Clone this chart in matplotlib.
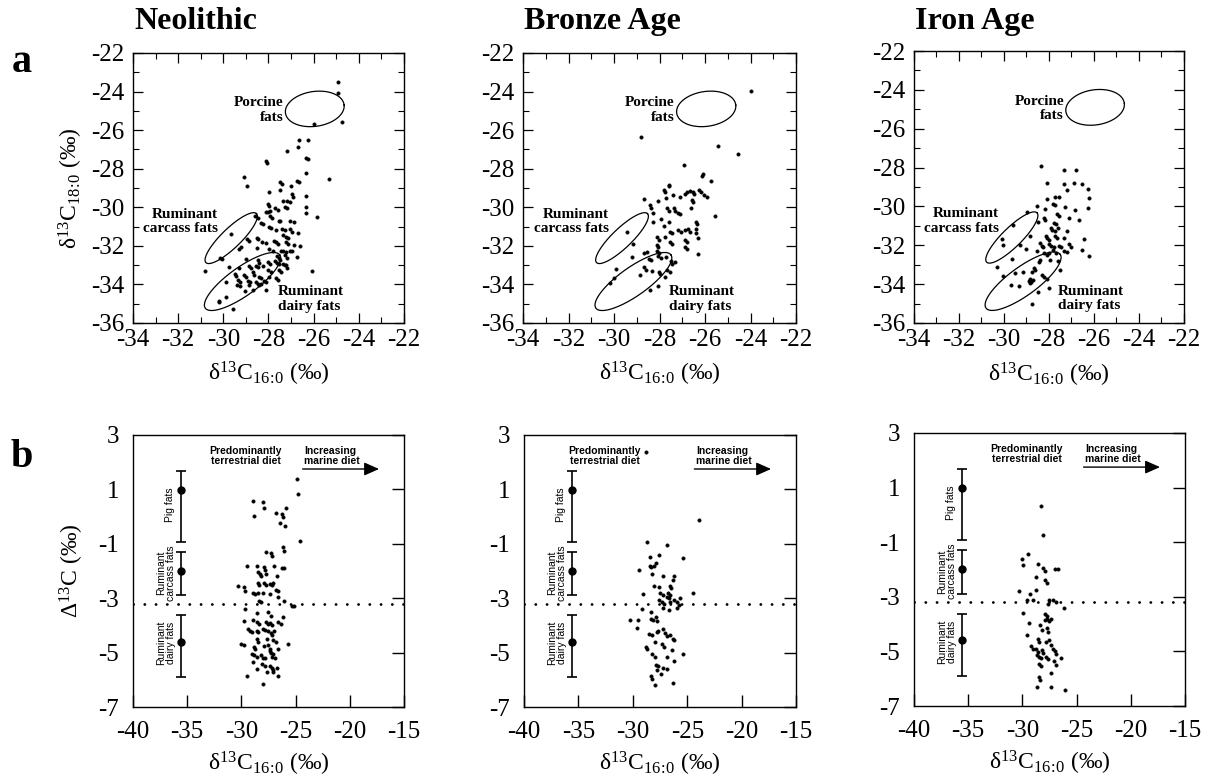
import numpy as np
import matplotlib
matplotlib.use("Agg")
import matplotlib.pyplot as plt

plt.rcParams['font.family'] = ['Liberation Serif', 'DejaVu Serif']
plt.rcParams['mathtext.fontset'] = 'custom'
plt.rcParams['mathtext.rm'] = 'Liberation Serif'
plt.rcParams['mathtext.default'] = 'regular'

periods = ["Neolithic", "Bronze Age", "Iron Age"]

# ---------------- top row: d13C16:0 vs d13C18:0 ----------------
neo_top = [
    (-24.94,-23.5), (-24.9,-24.1), (-24.74,-25.6), (-26.0,-25.7),
    (-26.65,-26.5), (-26.24,-26.5), (-27.2,-27.1), (-26.7,-26.9),
    (-26.32,-27.45), (-26.25,-27.5), (-28.1,-27.6), (-28.05,-27.72),
    (-26.35,-28.2), (-25.3,-28.55), (-29.07,-28.45), (-28.96,-28.9),
    (-27.5,-28.7), (-27.42,-28.78), (-26.72,-28.62), (-26.65,-28.7),
    (-27.0,-28.9), (-26.35,-29.4), (-27.96,-29.2), (-27.5,-29.1),
    (-26.97,-29.3), (-26.9,-29.45), (-27.35,-29.7), (-27.2,-29.65),
    (-27.05,-29.75), (-26.35,-30.0), (-26.35,-30.3), (-25.84,-30.5),
    (-28.02,-29.85), (-27.96,-29.95), (-27.7,-30.05), (-27.6,-30.12),
    (-27.27,-29.98), (-27.2,-30.05), (-28.1,-30.22), (-28.0,-30.25), (-27.93,-30.2),
    (-28.6,-30.45), (-28.45,-30.55), (-27.92,-30.45), (-27.85,-30.55),
    (-27.55,-30.7), (-27.48,-30.73), (-27.05,-30.7), (-26.87,-30.75),
    (-28.33,-30.83), (-28.23,-30.86), (-27.98,-31.02), (-27.88,-31.1),
    (-27.68,-31.2), (-27.38,-31.15), (-27.28,-31.2), (-27.05,-31.15), (-26.98,-31.3),
    (-26.7,-31.35), (-27.35,-31.45), (-27.23,-31.52), (-27.12,-31.58),
    (-29.65,-31.4), (-28.93,-31.65), (-28.86,-31.75), (-28.52,-31.6), (-28.45,-31.65),
    (-28.28,-31.8), (-28.13,-31.85), (-27.75,-31.75), (-27.68,-31.82), (-27.6,-31.92),
    (-27.23,-31.8), (-27.12,-31.88), (-26.85,-31.95), (-26.62,-32.0),
    (-29.3,-32.15), (-29.2,-32.07), (-28.5,-32.1), (-27.98,-32.18), (-27.82,-32.25),
    (-27.45,-32.27), (-27.35,-32.25), (-27.22,-32.3), (-27.05,-32.25), (-26.95,-32.28),
    (-27.63,-32.55), (-27.55,-32.65), (-27.48,-32.72), (-27.25,-32.5), (-27.2,-32.62),
    (-26.75,-32.6), (-30.15,-32.63), (-30.08,-32.68), (-29.0,-32.7), (-28.47,-32.75), (-28.4,-32.88),
    (-28.0,-32.85), (-27.92,-32.96), (-27.7,-32.8), (-27.62,-32.88), (-27.55,-32.96),
    (-27.35,-32.92), (-27.28,-33.0), (-27.2,-33.15), (-27.23,-32.98),
    (-30.8,-33.3), (-29.75,-33.1), (-29.3,-33.15), (-28.88,-33.06), (-28.78,-33.15),
    (-28.57,-33.03), (-28.47,-33.1), (-28.25,-33.05), (-28.0,-33.25), (-27.88,-33.38),
    (-27.55,-33.25), (-27.43,-33.38), (-29.5,-33.45), (-29.43,-33.55), (-29.1,-33.5), (-28.98,-33.6),
    (-28.7,-33.38), (-28.63,-33.5), (-28.4,-33.6), (-28.33,-33.68), (-27.98,-33.6),
    (-27.68,-33.65), (-27.6,-33.75), (-29.37,-33.78), (-29.27,-33.86), (-28.9,-33.8), (-28.82,-33.9),
    (-28.55,-33.88), (-28.48,-33.96), (-28.18,-33.8), (-28.1,-33.88),
    (-29.9,-33.85), (-29.38,-34.03), (-29.26,-34.1), (-28.85,-34.05), (-28.4,-34.05), (-28.34,-33.96),
    (-29.05,-34.35), (-28.7,-34.3), (-28.1,-34.3), (-30.17,-34.85), (-30.2,-34.9),
    (-29.9,-34.65), (-29.55,-35.3), (-26.06,-33.3),
]
bronze_top = [
    (-23.97,-23.97), (-28.83,-26.34), (-25.45,-26.83), (-24.57,-27.26), (-26.92,-27.81),
    (-26.07,-28.25), (-26.15,-28.4), (-25.75,-28.64), (-27.6,-28.92), (-27.58,-28.85),
    (-28.7,-29.57), (-27.82,-29.08), (-27.75,-29.2), (-27.7,-29.5), (-27.4,-29.35),
    (-26.9,-29.3), (-26.8,-29.22), (-26.65,-29.15), (-26.55,-29.22), (-26.48,-29.3),
    (-26.28,-29.08), (-26.2,-29.2), (-26.05,-29.35), (-25.9,-29.45), (-27.1,-29.45),
    (-26.58,-29.62), (-26.52,-29.72), (-28.43,-29.87), (-28.37,-30.03), (-28.05,-29.7),
    (-27.68,-30.05), (-27.6,-30.18), (-27.38,-30.05), (-27.3,-30.18), (-27.2,-30.28), (-27.12,-30.37),
    (-26.6,-30.03), (-25.55,-30.45), (-28.3,-30.3), (-28.27,-30.75), (-27.95,-30.6),
    (-27.6,-30.75), (-26.42,-30.75), (-26.35,-30.85), (-27.8,-30.95), (-29.42,-31.3),
    (-27.52,-31.27), (-27.45,-31.35), (-27.18,-31.18), (-27.07,-31.27), (-26.87,-31.18),
    (-26.75,-31.15), (-26.67,-31.27), (-26.42,-31.15), (-26.39,-31.33), (-28.1,-31.55),
    (-28.03,-31.68), (-27.75,-31.55), (-27.52,-31.8), (-27.45,-31.93), (-26.88,-31.68),
    (-26.8,-31.8), (-26.33,-31.6), (-29.15,-31.9), (-28.1,-31.96), (-28.07,-32.08),
    (-28.55,-32.3), (-28.1,-32.27), (-28.03,-32.37), (-26.9,-32.05), (-26.8,-32.18),
    (-26.33,-32.4), (-29.2,-32.6), (-28.7,-32.35), (-28.45,-32.68), (-28.38,-32.76),
    (-28.05,-32.55), (-27.95,-32.65), (-27.7,-32.6), (-27.48,-32.77), (-27.45,-32.95),
    (-27.33,-32.85), (-28.68,-33.08), (-28.6,-33.25), (-28.35,-33.3), (-28.03,-33.35),
    (-28.0,-33.48), (-27.67,-33.25), (-27.55,-33.37), (-29.92,-33.2), (-28.85,-33.5),
    (-30.0,-33.67), (-27.75,-33.6), (-30.2,-33.93), (-28.05,-34.1), (-28.4,-34.28),
]
iron_top = [
    (-28.36,-27.93), (-27.35,-28.1), (-26.8,-28.1), (-28.1,-28.8), (-27.35,-28.87),
    (-26.88,-28.8), (-26.55,-28.87), (-27.2,-29.13), (-26.28,-29.08), (-28.07,-29.63),
    (-27.72,-29.5), (-27.55,-29.5), (-27.83,-29.85), (-27.75,-29.95), (-27.3,-30.02),
    (-26.24,-29.55), (-28.55,-30.0), (-28.99,-30.3), (-28.17,-30.15), (-26.86,-30.2),
    (-26.28,-30.1), (-27.63,-30.4), (-27.55,-30.48), (-28.22,-30.6), (-28.17,-30.72),
    (-27.13,-30.62), (-26.65,-30.7), (-27.78,-30.83), (-27.7,-30.92), (-28.5,-30.78),
    (-29.6,-30.95), (-27.93,-31.13), (-27.85,-31.22), (-27.75,-31.25), (-27.6,-31.1),
    (-27.2,-31.25), (-28.85,-31.5), (-30.1,-31.7), (-28.15,-31.5), (-28.07,-31.62),
    (-28.0,-31.72), (-27.73,-31.5), (-27.63,-31.6), (-27.35,-31.65), (-26.45,-31.7),
    (-30.05,-32.0), (-29.3,-32.0), (-28.42,-31.9), (-28.32,-32.02), (-28.25,-32.1),
    (-28.0,-31.93), (-27.9,-32.02), (-27.78,-32.1), (-27.55,-32.02), (-27.48,-32.07),
    (-27.1,-31.95), (-27.0,-32.08), (-26.52,-32.26), (-26.24,-32.57), (-29.0,-32.2),
    (-28.55,-32.3), (-28.2,-32.4), (-28.1,-32.5), (-27.98,-32.38), (-27.8,-32.25),
    (-27.68,-32.38), (-27.35,-32.32), (-27.2,-32.37), (-28.4,-32.75), (-28.45,-32.85),
    (-27.95,-32.75), (-27.58,-32.8), (-29.65,-32.7), (-30.33,-33.1), (-28.68,-33.15),
    (-28.6,-33.28), (-27.5,-33.25), (-29.15,-33.37), (-30.05,-33.6), (-28.85,-33.75),
    (-28.8,-33.88), (-28.72,-33.8), (-28.83,-33.95), (-28.9,-33.85), (-28.75,-33.4),
    (-28.3,-33.55), (-28.2,-33.65), (-28.1,-33.75), (-29.5,-33.45), (-29.7,-34.05), (-29.35,-34.12),
    (-28.5,-34.4), (-28.0,-34.2), (-28.77,-35.0),
]

# ---------------- bottom row: d13C16:0 vs Delta13C ----------------
neo_bot = [
    (-24.85,1.4), (-24.8,0.82), (-24.6,-0.89), (-28.9,0.58), (-27.97,0.52), (-27.9,0.3),
    (-28.8,0.04), (-26.82,0.12), (-26.27,0.1), (-26.15,0.0), (-25.9,0.31), (-26.4,-0.25), (-26.0,-0.35),
    (-26.2,-1.1), (-26.1,-1.25), (-27.7,-1.3), (-27.25,-1.35), (-27.2,-1.45),
    (-29.5,-1.8), (-28.6,-1.8), (-27.95,-1.85), (-27.8,-1.95), (-26.95,-1.8), (-26.25,-1.9), (-26.1,-1.88),
    (-28.45,-2.05), (-28.3,-2.12), (-28.15,-2.2), (-27.7,-2.1), (-26.75,-2.2),
    (-30.3,-2.55), (-29.8,-2.57), (-29.65,-2.75), (-28.5,-2.45), (-28.4,-2.52),
    (-27.9,-2.45), (-27.72,-2.52), (-27.4,-2.46), (-27.2,-2.53), (-27.05,-2.43),
    (-26.8,-2.7), (-26.58,-2.72), (-28.95,-2.8), (-28.7,-2.84), (-28.5,-2.8), (-28.0,-2.8),
    (-27.35,-2.84), (-26.65,-2.95), (-28.4,-3.1), (-28.15,-3.15), (-26.1,-3.1),
    (-25.35,-3.3), (-25.1,-3.3), (-29.65,-3.4), (-28.6,-3.55), (-27.55,-3.5), (-27.25,-3.65),
    (-26.2,-3.7), (-29.75,-3.85), (-28.9,-3.8), (-28.6,-3.87), (-28.35,-3.95),
    (-27.7,-3.87), (-27.55,-3.95), (-27.35,-3.9), (-27.15,-3.98), (-26.6,-3.87), (-26.3,-3.95),
    (-29.4,-4.13), (-29.25,-4.22), (-29.0,-4.25), (-28.6,-4.2), (-28.45,-4.25),
    (-28.0,-4.12), (-27.85,-4.18), (-27.5,-4.2), (-27.3,-4.28), (-27.15,-4.35), (-27.0,-4.2),
    (-28.6,-4.5), (-28.45,-4.6), (-27.6,-4.5), (-27.05,-4.55), (-26.85,-4.6),
    (-30.0,-4.67), (-29.8,-4.73), (-28.85,-4.8), (-28.7,-4.85), (-27.95,-4.75),
    (-27.5,-4.73), (-27.4,-4.85), (-27.35,-4.93), (-27.27,-5.0), (-27.1,-5.05), (-27.2,-5.15),
    (-26.6,-4.85), (-25.7,-4.7), (-29.05,-5.05), (-28.85,-5.1), (-28.6,-5.15),
    (-28.15,-5.08), (-28.05,-5.18), (-27.8,-5.2), (-26.9,-5.2), (-28.9,-5.35),
    (-28.1,-5.42), (-27.8,-5.48), (-27.35,-5.5), (-27.2,-5.55), (-27.05,-5.63),
    (-26.75,-5.55), (-28.6,-5.6), (-27.65,-5.72), (-27.05,-5.73), (-29.45,-5.85),
    (-26.6,-5.85), (-28.0,-6.15),
]
bronze_bot = [
    (-28.79,2.36), (-23.88,-0.13), (-28.73,-0.93), (-26.9,-1.05), (-25.4,-1.52), (-28.4,-1.5), (-27.56,-1.4),
    (-29.4,-1.97), (-28.45,-1.8), (-28.3,-1.85), (-28.1,-1.8), (-27.9,-1.7), (-28.27,-2.12),
    (-27.2,-2.2), (-26.25,-2.2), (-26.35,-2.32), (-26.6,-2.55), (-26.5,-2.62),
    (-28.05,-2.55), (-27.6,-2.6), (-27.5,-2.8), (-27.2,-2.88), (-26.9,-2.97), (-29.1,-2.83),
    (-24.5,-2.8), (-26.75,-2.8), (-26.6,-2.88), (-26.7,-3.0), (-27.6,-3.08), (-27.3,-3.15), (-27.1,-3.22),
    (-26.6,-3.15), (-26.2,-3.08), (-25.95,-3.15), (-25.75,-3.25), (-25.9,-3.35), (-25.65,-3.0),
    (-29.2,-3.4), (-28.33,-3.5), (-27.2,-3.35), (-26.65,-3.45),
    (-30.3,-3.8), (-29.55,-3.8), (-28.3,-3.75), (-28.15,-3.8), (-27.9,-3.7), (-27.8,-3.85),
    (-29.6,-4.1), (-28.55,-4.3), (-28.25,-4.35), (-27.8,-4.25), (-27.65,-4.22),
    (-27.2,-4.15), (-27.05,-4.27), (-26.9,-4.4), (-26.6,-4.37), (-26.35,-4.5), (-26.25,-4.55),
    (-27.95,-4.6), (-28.8,-4.8), (-28.7,-4.85), (-27.35,-4.68), (-27.1,-4.8), (-26.4,-4.9),
    (-25.4,-5.05), (-28.2,-5.05), (-28.0,-5.15), (-26.9,-5.15), (-26.2,-5.3),
    (-27.9,-5.45), (-27.7,-5.5), (-27.2,-5.55), (-26.9,-5.6), (-27.8,-5.65),
    (-28.35,-5.85), (-28.2,-5.97), (-27.4,-5.8), (-27.95,-6.2), (-26.27,-6.1),
]
iron_bot = [
    (-28.32,0.31), (-28.07,-0.73), (-29.51,-1.43), (-30.05,-1.6), (-29.95,-1.85), (-28.53,-1.8),
    (-28.05,-1.95), (-27.95,-2.05), (-26.95,-2.0), (-26.75,-2.0), (-28.78,-2.26),
    (-27.95,-2.4), (-27.75,-2.5), (-30.3,-2.8), (-29.3,-2.9), (-28.78,-2.75),
    (-29.6,-3.1), (-29.0,-3.1), (-27.65,-3.25), (-27.5,-3.12), (-27.15,-3.12), (-26.9,-3.2),
    (-26.16,-3.4), (-29.98,-3.6), (-27.9,-3.62), (-27.7,-3.7), (-29.4,-3.95),
    (-27.9,-3.85), (-27.75,-3.82), (-27.55,-3.88), (-27.35,-3.82), (-28.35,-4.05), (-28.2,-4.2),
    (-27.75,-4.15), (-27.6,-4.3), (-29.6,-4.4), (-28.6,-4.55), (-28.5,-4.65),
    (-27.85,-4.65), (-27.5,-4.6), (-27.4,-4.75), (-29.2,-4.8), (-29.05,-4.9),
    (-28.7,-4.9), (-28.6,-5.02), (-28.2,-4.95), (-28.05,-5.05), (-27.2,-4.9), (-27.0,-5.0), (-26.85,-5.1),
    (-28.65,-5.15), (-28.5,-5.22), (-28.3,-5.25), (-27.8,-5.2), (-27.65,-5.28), (-26.4,-5.25),
    (-27.1,-5.35), (-28.45,-5.45), (-28.3,-5.55), (-26.9,-5.5), (-27.4,-5.8),
    (-28.45,-5.95), (-28.35,-6.05), (-28.68,-6.3), (-27.4,-6.3), (-26.1,-6.4),
]

top_data = [neo_top, bronze_top, iron_top]
bot_data = [neo_bot, bronze_bot, iron_bot]

# reference fat ellipses (center, half-axis vectors) in data units
ell_names = ["Porcine", "Carcass", "Dairy"]
ell_center = [(-25.95, -24.9), (-29.65, -31.6), (-29.15, -33.85)]
ell_u = [(1.3, 0.2), (1.12, 1.27), (1.65, 1.38)]
ell_v = [(-0.08, 0.9), (-0.3, 0.36), (-0.36, 0.6)]

# reference Delta13C ranges for modern fats
ref_labels = ["Pig fats", "Ruminant\ncarcass fats", "Ruminant\ndairy fats"]
ref_x = -35.6
ref_mean = [0.98, -2.0, -4.6]
ref_low = [-0.92, -2.88, -5.9]
ref_high = [1.68, -1.3, -3.62]
threshold = -3.2

top_xticks = [-34, -32, -30, -28, -26, -24, -22]
top_yticks = [-36, -34, -32, -30, -28, -26, -24, -22]
bot_xticks = [-40, -35, -30, -25, -20, -15]
bot_yticks = [-7, -5, -3, -1, 1, 3]

fig = plt.figure(figsize=(12.08, 7.79), dpi=100)

top_pos = [[0.1101, 0.5854, 0.2243, 0.3466],
           [0.4330, 0.5854, 0.2260, 0.3466],
           [0.7566, 0.5854, 0.2235, 0.3491]]
bot_pos = [[0.1101, 0.0924, 0.2243, 0.3492],
           [0.4338, 0.0924, 0.2252, 0.3492],
           [0.7566, 0.0937, 0.2243, 0.3505]]

xlab = r'δ$^{13}$C$_{16\!:\!0}$ (‰)'
tickfs = 18
labfs = 17
sans = ['Liberation Sans', 'DejaVu Sans']

for i in range(3):
    # ---------- top ----------
    ax = fig.add_axes(top_pos[i])
    pts = np.array(top_data[i])
    ax.plot(pts[:, 0], pts[:, 1], 'o', ms=2.6, color='black', mec='black', mew=0.2)
    t = np.linspace(0, 2 * np.pi, 200)
    for c, u, v in zip(ell_center, ell_u, ell_v):
        ex = c[0] + u[0] * np.cos(t) + v[0] * np.sin(t)
        ey = c[1] + u[1] * np.cos(t) + v[1] * np.sin(t)
        ax.plot(ex, ey, color='black', lw=0.9)
    ax.text(-27.33, -24.95, "Porcine\nfats", ha='right', va='center', fontsize=11,
            fontweight='bold', linespacing=1.15)
    ax.text(-30.22, -30.75, "Ruminant\ncarcass fats", ha='right', va='center', fontsize=11,
            fontweight='bold', linespacing=1.15)
    ax.text(-27.6, -34.75, "Ruminant\ndairy fats", ha='left', va='center', fontsize=11,
            fontweight='bold', linespacing=1.15)
    ax.set_xlim(-34, -22)
    ax.set_ylim(-36, -22)
    ax.set_xticks(top_xticks)
    ax.set_yticks(top_yticks)
    ax.set_xticks(np.arange(-34, -21, 1), minor=True)
    ax.set_yticks(np.arange(-36, -21, 1), minor=True)
    ax.set_xticklabels([str(v) for v in top_xticks])
    ax.set_yticklabels([str(v) for v in top_yticks])
    ax.tick_params(which='both', direction='in', top=True, right=True, labelsize=tickfs)
    ax.tick_params(axis='x', pad=4)
    ax.tick_params(axis='y', pad=6)
    ax.tick_params(which='major', length=7, width=0.9)
    ax.tick_params(which='minor', length=4, width=0.8)
    for s in ax.spines.values():
        s.set_linewidth(1.0)
    ax.set_xlabel(xlab, fontsize=labfs, va='center')
    ax.xaxis.set_label_coords(0.5, -0.19)
    if i == 0:
        ax.set_ylabel(r'δ$^{13}$C$_{18\!:\!0}$ (‰)', fontsize=labfs, va='center')
        ax.yaxis.set_label_coords(-0.228, 0.5)
    fig.text(top_pos[i][0] + 0.001, 1 - 29 / 779, periods[i], ha='left', va='baseline',
             fontsize=23, fontweight='bold')

    # ---------- bottom ----------
    ax = fig.add_axes(bot_pos[i])
    pts = np.array(bot_data[i])
    ax.axhline(threshold, color='black', lw=2.0, linestyle=(0, (0.05, 4.0)),
               dash_capstyle='round', zorder=1)
    ax.plot(pts[:, 0], pts[:, 1], 'o', ms=2.6, color='black', mec='black', mew=0.2)
    ax.errorbar([ref_x] * 3, ref_mean,
                yerr=[np.array(ref_mean) - np.array(ref_low), np.array(ref_high) - np.array(ref_mean)],
                fmt='o', ms=5, color='black', ecolor='black', elinewidth=1.2, capsize=3.5, capthick=1.2)
    lab_x = [-36.6, -36.95, -36.95]
    lab_y = [0.43, -2.07, -4.65]
    for lbl, lx, ly in zip(ref_labels, lab_x, lab_y):
        ax.text(lx, ly, lbl, rotation=90, ha='center', va='center', fontsize=7.5,
                family=sans, linespacing=1.05, multialignment='center')
    px = -32.6 if i == 1 else -29.6
    ax.text(px, 2.23, "Predominantly\nterrestrial diet", ha='center', va='center',
            fontsize=7.5, family=sans, fontweight='bold', linespacing=1.05)
    ax.text(-24.2, 2.23, "Increasing\nmarine diet", ha='left', va='center',
            fontsize=7.5, family=sans, fontweight='bold', linespacing=1.05)
    ax.annotate("", xy=(-17.3, 1.75), xytext=(-24.35, 1.75),
                arrowprops=dict(arrowstyle='-|>,head_length=0.9,head_width=0.4',
                                color='black', lw=1.0, shrinkA=0, shrinkB=0))
    ax.set_xlim(-40, -15)
    ax.set_ylim(-7, 3)
    ax.set_xticks(bot_xticks)
    ax.set_yticks(bot_yticks)
    ax.set_xticklabels([str(v) for v in bot_xticks])
    ax.set_yticklabels([str(v) for v in bot_yticks])
    ax.tick_params(direction='in', left=False, right=True, top=False, labelsize=tickfs,
                   length=9, width=1.0)
    ax.tick_params(axis='x', pad=10)
    ax.tick_params(axis='y', pad=10)
    for s in ax.spines.values():
        s.set_linewidth(1.0)
    ax.set_xlabel(xlab, fontsize=labfs, va='center')
    ax.xaxis.set_label_coords(0.5, -0.208)
    if i == 0:
        ax.set_ylabel('Δ$^{13}$C (‰)', fontsize=labfs, va='center')
        ax.yaxis.set_label_coords(-0.225, 0.5)

fig.text(22 / 1208, 1 - 72 / 779, "a", ha='center', va='baseline', fontsize=29, fontweight='bold')
fig.text(22 / 1208, 1 - 467 / 779, "b", ha='center', va='baseline', fontsize=29, fontweight='bold')

fig.savefig("out.png", dpi=100)
